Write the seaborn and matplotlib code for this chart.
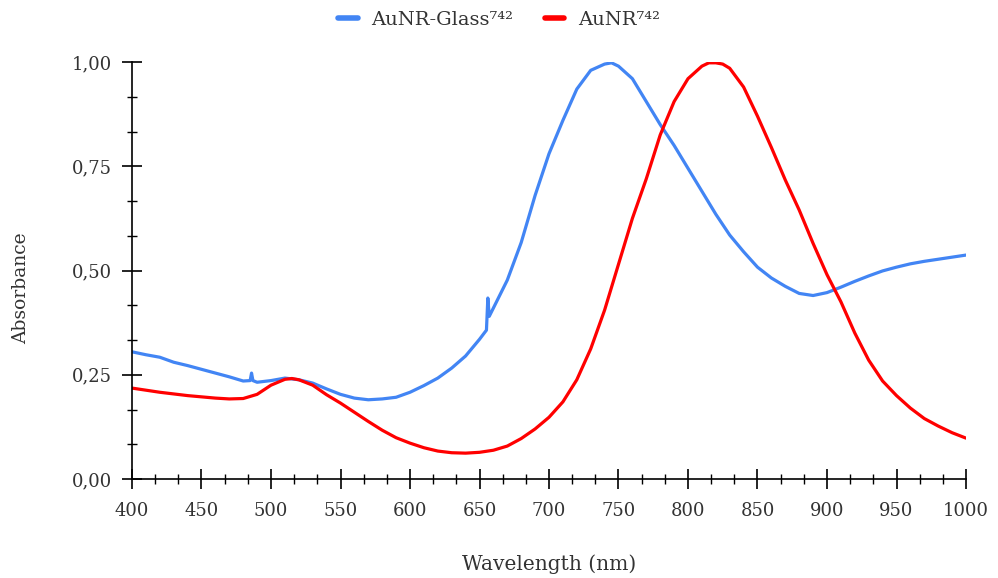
import matplotlib
matplotlib.use("Agg")
import matplotlib.pyplot as plt
from matplotlib.ticker import AutoMinorLocator, FixedLocator
import seaborn as sns
import pandas as pd

# ---- data ----
glass_wl = [400, 410, 420, 430, 440, 450, 460, 470, 480, 485, 486, 487, 490, 500,
            510, 520, 530, 540, 550, 560, 570, 580, 590, 600, 610, 620, 630, 640,
            650, 655, 656, 657, 660, 670, 680, 690, 700, 710, 720, 730, 740, 745,
            750, 760, 770, 780, 790, 800, 810, 820, 830, 840, 850, 860, 870, 880,
            890, 900, 910, 920, 930, 940, 950, 960, 970, 980, 990, 1000]
glass_abs = [0.305, 0.298, 0.292, 0.280, 0.272, 0.263, 0.254, 0.245, 0.235, 0.236,
             0.254, 0.236, 0.232, 0.236, 0.242, 0.238, 0.230, 0.216, 0.203, 0.194,
             0.190, 0.192, 0.196, 0.208, 0.224, 0.242, 0.266, 0.295, 0.335, 0.357,
             0.434, 0.390, 0.410, 0.477, 0.567, 0.680, 0.780, 0.860, 0.935, 0.980,
             0.995, 0.998, 0.990, 0.960, 0.905, 0.850, 0.800, 0.745, 0.690, 0.635,
             0.585, 0.545, 0.508, 0.482, 0.462, 0.445, 0.440, 0.447, 0.460, 0.474,
             0.487, 0.499, 0.508, 0.516, 0.522, 0.527, 0.532, 0.537]

aunr_wl = [400, 420, 440, 460, 470, 480, 490, 500, 510, 515, 520, 530, 540, 550,
           560, 570, 580, 590, 600, 610, 620, 630, 640, 650, 660, 670, 680, 690,
           700, 710, 720, 730, 740, 750, 760, 770, 780, 790, 800, 810, 815, 820,
           825, 830, 840, 850, 860, 870, 880, 890, 900, 910, 920, 930, 940, 950,
           960, 970, 980, 990, 1000]
aunr_abs = [0.218, 0.208, 0.200, 0.194, 0.192, 0.193, 0.203, 0.225, 0.239, 0.241,
            0.238, 0.225, 0.202, 0.182, 0.160, 0.138, 0.117, 0.099, 0.086, 0.075,
            0.067, 0.063, 0.062, 0.064, 0.069, 0.079, 0.097, 0.120, 0.148, 0.185,
            0.238, 0.312, 0.405, 0.515, 0.625, 0.720, 0.825, 0.905, 0.960, 0.990,
            0.998, 0.998, 0.995, 0.985, 0.940, 0.870, 0.795, 0.717, 0.645, 0.565,
            0.490, 0.425, 0.350, 0.285, 0.235, 0.200, 0.170, 0.145, 0.127, 0.111,
            0.098]

series_names = ["AuNR-Glass⁷⁴²", "AuNR⁷⁴²"]
series_colors = ["#4285F4", "#FF0000"]
x_ticks = [400, 450, 500, 550, 600, 650, 700, 750, 800, 850, 900, 950, 1000]
y_ticks = [0.0, 0.25, 0.5, 0.75, 1.0]
y_tick_labels = ["0,00", "0,25", "0,50", "0,75", "1,00"]

df = pd.concat([
    pd.DataFrame({"wl": glass_wl, "abs": glass_abs, "series": series_names[0]}),
    pd.DataFrame({"wl": aunr_wl, "abs": aunr_abs, "series": series_names[1]}),
])

sns.set_style("white")
plt.rcParams["font.family"] = ["DejaVu Serif", "DejaVu Sans"]

fig = plt.figure(figsize=(9.98, 5.78), dpi=100)
ax = fig.add_axes([132 / 998, 1 - 479 / 578, (966 - 132) / 998, (479 - 62) / 578])

sns.lineplot(data=df, x="wl", y="abs", hue="series", hue_order=series_names,
             palette=series_colors, linewidth=2.3, ax=ax, sort=False,
             estimator=None)

ax.set_xlim(400, 1000)
ax.set_ylim(0, 1)
ax.xaxis.set_major_locator(FixedLocator(x_ticks))
ax.set_xticklabels([str(v) for v in x_ticks])
ax.yaxis.set_major_locator(FixedLocator(y_ticks))
ax.set_yticklabels(y_tick_labels)
ax.xaxis.set_minor_locator(AutoMinorLocator(3))
ax.yaxis.set_minor_locator(AutoMinorLocator(3))

for s in ["top", "right"]:
    ax.spines[s].set_visible(False)
for s in ["left", "bottom"]:
    ax.spines[s].set_color("black")
    ax.spines[s].set_linewidth(1.2)

ax.tick_params(which="both", bottom=True, left=True, top=False, right=False)
ax.tick_params(which="major", direction="inout", length=15, width=1.2,
               colors="black", labelsize=13, labelcolor="#333333")
ax.tick_params(which="minor", direction="inout", length=7, width=1.0,
               colors="black")
ax.tick_params(axis="x", which="major", pad=9)
ax.tick_params(axis="y", which="major", pad=7)

ax.set_xlabel("Wavelength (nm)", fontsize=14.5, color="#333333")
ax.set_ylabel("Absorbance", fontsize=13.5, color="#333333")
ax.xaxis.set_label_coords(0.5, -0.18)
ax.yaxis.set_label_coords(-0.122, 0.458)

sns.move_legend(ax, "center", bbox_to_anchor=(0.5, 1 - 20 / 578),
                bbox_transform=fig.transFigure, ncol=2, frameon=False,
                title=None, fontsize=14, handlelength=1.0,
                columnspacing=1.6, handletextpad=0.7)
leg = ax.get_legend()
for line in leg.get_lines():
    line.set_linewidth(4)
for t in leg.get_texts():
    t.set_color("#333333")

fig.savefig("out.png", dpi=100)
